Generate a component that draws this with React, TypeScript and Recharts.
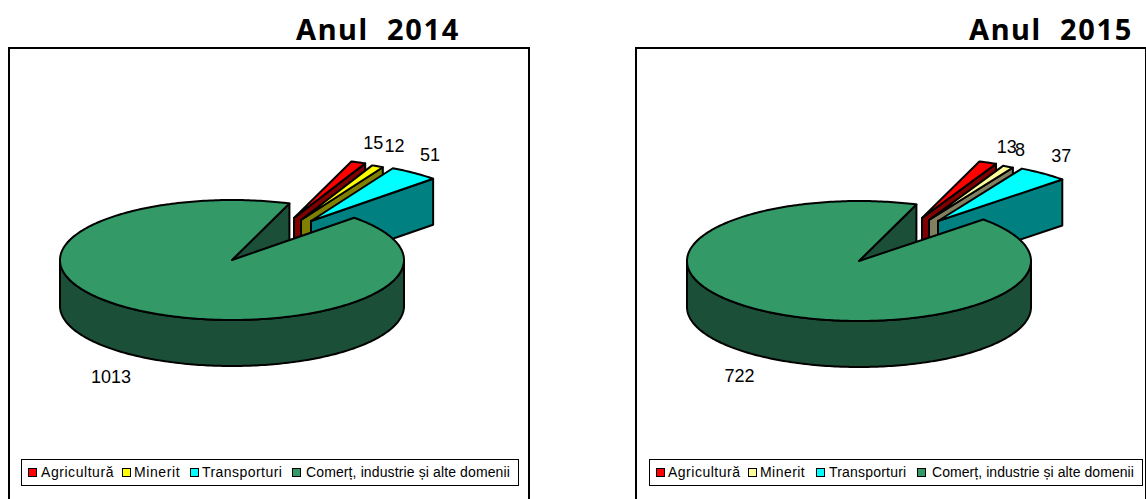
import React from "react";
import { PieChart, Pie, Legend } from "recharts";

const categories = ["Agricultură", "Minerit", "Transporturi", "Comerț, industrie și alte domenii"];
const values2014 = [15, 12, 51, 1013];
const values2015 = [13, 8, 37, 722];
const colors2014 = ["#ff0000", "#ffff00", "#00ffff", "#339966"];
const walls2014 = ["#800000", "#808000", "#008080", "#1c4f37"];
const colors2015 = ["#ff0000", "#ffff99", "#00ffff", "#339966"];
const walls2015 = ["#800000", "#808060", "#008080", "#1c4f37"];

const TILT = 60 / 172;
const DEPTH = 46;
const RAD = Math.PI / 180;

type Cfg = {
  title: string; titleX: number; left: number; width: number; cx: number; cy: number; startAngle: number;
  values: number[]; colors: string[]; walls: string[];
  explode: number[][]; nudge: number[][];
  legendLeft: number; legendWidth: number; swatchX: number[]; textX: number[]; spacing: number[];
};

const charts: Cfg[] = [
  {
    title: "Anul  2014", titleX: 296, left: 8, width: 522, cx: 224, cy: 213, startAngle: 70.5,
    values: values2014, colors: colors2014, walls: walls2014,
    explode: [[62, -42], [69, -40], [79, -39], [0, 0]],
    nudge: [[15, -19], [17, -20], [16, -18], [-29, 66]],
    legendLeft: 13, legendWidth: 498, swatchX: [8, 102, 170, 272], textX: [21, 114, 182, 286], spacing: [0.55, 0.6, 0.45, 0.12],
  },
  {
    title: "Anul  2015", titleX: 969, left: 635, width: 512, cx: 224, cy: 214, startAngle: 70.5,
    values: values2015, colors: colors2015, walls: walls2015,
    explode: [[63, -43], [70, -41], [79, -40], [0, 0]],
    nudge: [[19, -16], [12, -17], [18, -18], [-26, 65]],
    legendLeft: 14, legendWidth: 494, swatchX: [8, 100, 168, 269], textX: [20, 112, 181, 284], spacing: [0.5, 0.45, 0.2, 0.06],
  },
];

function pt(cx: number, cy: number, r: number, a: number, dy = 0) {
  return [cx + r * Math.cos(a * RAD), cy - r * TILT * Math.sin(a * RAD) + dy];
}
function arc(cx: number, cy: number, r: number, from: number, to: number, dy = 0) {
  const n = Math.max(2, Math.ceil(Math.abs(from - to)));
  const out: number[][] = [];
  for (let i = 0; i <= n; i++) out.push(pt(cx, cy, r, from + ((to - from) * i) / n, dy));
  return out;
}
const toPath = (p: number[][]) => "M" + p.map((q) => q[0].toFixed(2) + "," + q[1].toFixed(2)).join("L") + "Z";

function makeShape(cfg: Cfg) {
  return function Slice3D(props: any) {
    const { outerRadius: r, startAngle: s, endAngle: e, fill, index } = props;
    const [ox, oy] = cfg.explode[index];
    const cx = props.cx + ox;
    const cy = props.cy + oy;
    const wall = cfg.walls[index];
    const line = { stroke: "#000", strokeWidth: 2, strokeLinejoin: "round" as const };
    const parts: React.ReactNode[] = [];
    // flat wall along the clockwise edge of the slice
    if (Math.cos(e * RAD) > 0) {
      const a = pt(cx, cy, r, e);
      parts.push(<path key="w" d={toPath([[cx, cy], a, [a[0], a[1] + DEPTH], [cx, cy + DEPTH]])} fill={wall} {...line} />);
    }
    // rounded front wall (angles 0 down to -180)
    const hi = Math.min(s, 0);
    const lo = Math.max(e, -180);
    if (hi > lo) {
      parts.push(<path key="o" d={toPath([...arc(cx, cy, r, hi, lo), ...arc(cx, cy, r, lo, hi, DEPTH)])} fill={wall} {...line} />);
    }
    parts.push(<path key="t" d={toPath([[cx, cy], ...arc(cx, cy, r, s, e)])} fill={fill} {...line} />);
    return <g>{parts}</g>;
  };
}

function makeLabel(cfg: Cfg) {
  return function SliceLabel(props: any) {
    const { cx, cy, outerRadius, midAngle, index, value } = props;
    const [ox, oy] = cfg.explode[index];
    const [nx, ny] = cfg.nudge[index];
    const p = pt(cx + ox, cy + oy, outerRadius, midAngle);
    return (
      <text x={p[0] + nx} y={p[1] + ny} fontFamily="'Liberation Sans', Arial, sans-serif" fontSize={18} fill="#000" textAnchor="middle" dominantBaseline="central">
        {value}
      </text>
    );
  };
}

function makeLegend(cfg: Cfg) {
  return function Box(props: any) {
    const items = props.payload || [];
    return (
      <div style={{ position: "relative", width: cfg.legendWidth, height: 27, border: "1.5px solid #000", boxSizing: "border-box", background: "#fff" }}>
        {items.map((it: any, i: number) => (
          <React.Fragment key={i}>
            <span style={{ position: "absolute", left: cfg.swatchX[i] - 2, top: 8, width: 9, height: 9, background: it.color, border: "1.5px solid #000", boxSizing: "border-box" }} />
            <span style={{ position: "absolute", left: cfg.textX[i] - 2, top: 4, fontFamily: "'Liberation Sans', Arial, sans-serif", fontSize: 14, lineHeight: "16px", letterSpacing: cfg.spacing[i], whiteSpace: "pre", color: "#000" }}>
              {it.value}
            </span>
          </React.Fragment>
        ))}
      </div>
    );
  };
}

function Panel({ cfg }: { cfg: Cfg }) {
  const data = categories.map((name, i) => ({ name, value: cfg.values[i], fill: cfg.colors[i] }));
  return (
    <>
      <div style={{ position: "absolute", left: cfg.titleX, top: 11, fontFamily: "'Noto Sans', sans-serif", fontWeight: 700, fontSize: 29, lineHeight: "36px", letterSpacing: 1.6, whiteSpace: "pre", color: "#000" }}>
        {cfg.title}
      </div>
      <div style={{ position: "absolute", left: cfg.left, top: 47, width: cfg.width, height: 480, border: "2px solid #000", boxSizing: "border-box", background: "#fff" }} />
      <div style={{ position: "absolute", left: cfg.left, top: 47 }}>
        <PieChart width={cfg.width} height={452} margin={{ top: 0, right: 0, bottom: 0, left: 0 }}>
          <Legend itemSorter={null} content={makeLegend(cfg)} wrapperStyle={{ position: "absolute", left: cfg.legendLeft, top: 412, bottom: "auto", width: cfg.legendWidth }} />
          <Pie
            data={data}
            dataKey="value"
            nameKey="name"
            cx={cfg.cx}
            cy={cfg.cy}
            innerRadius={0}
            outerRadius={172}
            startAngle={cfg.startAngle}
            endAngle={cfg.startAngle - 360}
            isAnimationActive={false}
            shape={makeShape(cfg)}
            label={makeLabel(cfg)}
            labelLine={false}
          />
        </PieChart>
      </div>
    </>
  );
}

export default function App() {
  return (
    <div style={{ position: "fixed", left: 0, top: 0, width: 1146, height: 499, overflow: "hidden", background: "#fff" }}>
      {charts.map((c) => (
        <Panel key={c.title} cfg={c} />
      ))}
    </div>
  );
}
